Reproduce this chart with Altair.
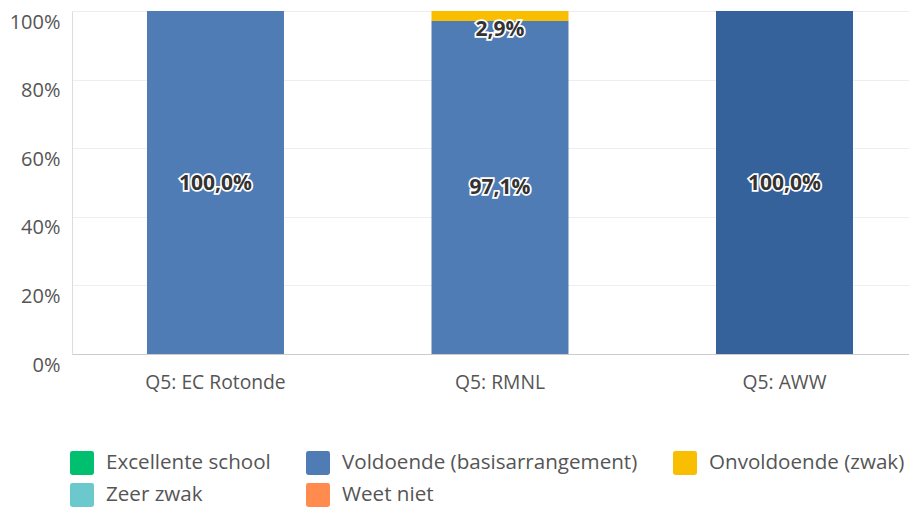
import altair as alt
import pandas as pd

categories = ["Q5: EC Rotonde", "Q5: RMNL", "Q5: AWW"]
answers = [
    "Excellente school",
    "Voldoende (basisarrangement)",
    "Onvoldoende (zwak)",
    "Zeer zwak",
    "Weet niet",
]
colors = ["#00BF6F", "#507CB6", "#F9BE00", "#6BC8CD", "#FF8B4F"]
highlight_color = "#35629B"
highlight_category = "Q5: AWW"

excellente = [0.0, 0.0, 0.0]
voldoende = [100.0, 97.1, 100.0]
onvoldoende = [0.0, 2.9, 0.0]
zeer_zwak = [0.0, 0.0, 0.0]
weet_niet = [0.0, 0.0, 0.0]

series = [excellente, voldoende, onvoldoende, zeer_zwak, weet_niet]
rows = []
for rank, (ans, vals) in enumerate(zip(answers, series)):
    for cat, v in zip(categories, vals):
        rows.append({"category": cat, "answer": ans, "value": v, "rank": rank})
df = pd.DataFrame(rows)

FONT = "Open Sans"

x_enc = alt.X(
    "category:N",
    sort=categories,
    scale=alt.Scale(paddingInner=0.5185, paddingOuter=0.2302, align=0.5725),
    axis=alt.Axis(
        title=None,
        labelAngle=0,
        ticks=False,
        grid=False,
        domain=True,
        domainColor="#cccccc",
        labelPadding=19,
        labelFontSize=19.3,
        labelColor="#555555",
        labelFont=FONT,
    ),
)

y_axis = alt.Axis(
    title=None,
    values=[i / 10 for i in range(11)],
    labelExpr="round(datum.value*100) % 20 == 0 ? format(datum.value, '.0%') : ''",
    ticks=False,
    grid=True,
    gridColor="#eeeeee",
    domain=True,
    domainColor="#dddddd",
    labelPadding=12,
    labelFontSize=20,
    labelColor="#555555",
    labelFont=FONT,
    labelOffset=1,
    labelBaseline="top",
)
y_scale = alt.Scale(domain=[0, 1], nice=False)

base = alt.Chart(df).transform_calculate(pct="datum.value / 100")

bars = base.mark_bar().encode(
    x=x_enc,
    y=alt.Y("pct:Q", stack="zero", scale=y_scale, axis=y_axis),
    color=alt.Color(
        "answer:N",
        scale=alt.Scale(domain=answers, range=colors),
        legend=alt.Legend(
            title=None,
            orient="none",
            legendX=-2,
            legendY=440,
            columns=3,
            direction="horizontal",
            gridAlign="none",
            columnPadding=35,
            rowPadding=8,
            symbolType="M-0.8,-1L0.8,-1Q1,-1 1,-0.8L1,0.8Q1,1 0.8,1L-0.8,1Q-1,1 -1,0.8L-1,-0.8Q-1,-1 -0.8,-1Z",
            symbolSize=576,
            symbolStrokeWidth=0,
            symbolOpacity=1,
            labelOffset=12,
            labelFontSize=20.6,
            labelColor="#555555",
            labelFont=FONT,
            labelLimit=400,
        ),
    ),
    order=alt.Order("rank:Q"),
)

stacked = base.transform_stack(
    stack="pct", groupby=["category"], sort=[alt.SortField("rank")], as_=["y0", "y1"]
).transform_filter("datum.value > 0")

highlight = stacked.transform_filter(
    f"datum.category == '{highlight_category}' && datum.rank == 1"
).mark_bar(color=highlight_color).encode(
    x=alt.X("category:N", sort=categories),
    y=alt.Y("y0:Q", scale=y_scale),
    y2="y1:Q",
)

labels = stacked.transform_calculate(
    pos="min((datum.y0 + datum.y1) / 2, 0.948)",
    label="replace(format(datum.value, '.1f'), '.', ',') + '%'",
)

label_halo = labels.mark_text(
    font=FONT, fontSize=21, fontWeight="bold", color="white",
    stroke="white", strokeWidth=3.5, baseline="middle", dy=1,
).encode(
    x=alt.X("category:N", sort=categories),
    y=alt.Y("pos:Q", scale=y_scale),
    text="label:N",
)
label_text = labels.mark_text(
    font=FONT, fontSize=21, fontWeight="bold", color="#333333", baseline="middle", dy=1,
).encode(
    x=alt.X("category:N", sort=categories),
    y=alt.Y("pos:Q", scale=y_scale),
    text="label:N",
)

chart = (
    alt.layer(bars, highlight, label_halo, label_text)
    .properties(
        width=837,
        height=343,
        padding={"left": 1, "top": 3, "right": 0, "bottom": 0},
        background="white",
    )
    .configure_view(stroke=None)
)

chart.save("out.html", embed_options={"renderer": "svg", "actions": False})
